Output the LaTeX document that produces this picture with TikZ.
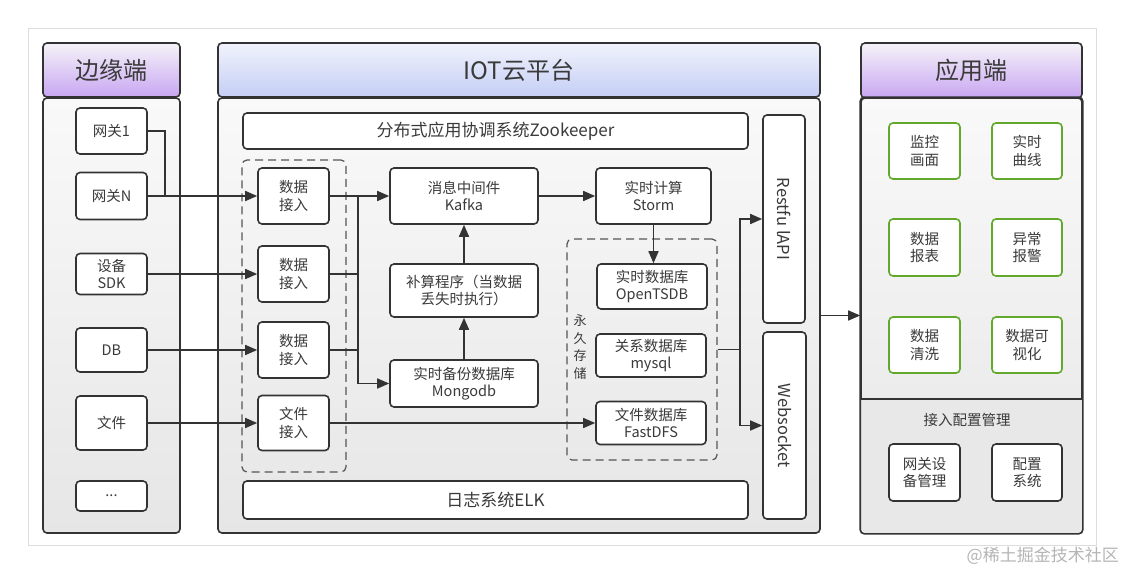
\documentclass[tikz,border=0pt]{standalone}
\usepackage{fontspec}
\setmainfont{Noto Sans CJK SC}
\usetikzlibrary{arrows.meta}
\definecolor{linec}{HTML}{333333}
\definecolor{textc}{HTML}{3A3A3A}
\definecolor{greenc}{HTML}{62A82C}
\definecolor{dashc}{HTML}{555555}
\definecolor{frame}{HTML}{DDDDDD}
\definecolor{bodytop}{HTML}{F9F9F9}
\definecolor{bodybot}{HTML}{E6E6E6}
\definecolor{lowc}{HTML}{E8E8E8}
\definecolor{purtop}{HTML}{F5F3F8}
\definecolor{purbot}{HTML}{C8A6F2}
\definecolor{blutop}{HTML}{F1F3FB}
\definecolor{blubot}{HTML}{C4CEF6}
\definecolor{wmc}{HTML}{B5B5B5}
\begin{document}
\begin{tikzpicture}[x=1pt,y=-1pt,
  box/.style={draw=linec, line width=1.6pt, rounded corners=4pt, fill=white, text=textc,
    font=\fontsize{14.5}{17.5}\selectfont, align=center, inner sep=0pt},
  gbox/.style={box, draw=greenc},
  bigbox/.style={box, font=\fontsize{17}{19}\selectfont},
  panel/.style={draw=linec, line width=1.6pt, rounded corners=4pt, top color=bodytop, bottom color=bodybot, inner sep=0pt},
  phead/.style={draw=linec, line width=1.6pt, rounded corners=4pt, top color=purtop, bottom color=purbot,
    text=textc, font=\fontsize{24}{26}\selectfont, inner sep=0pt},
  mhead/.style={phead, top color=blutop, bottom color=blubot},
  grp/.style={draw=dashc, line width=1.2pt, dash pattern=on 8pt off 5pt, rounded corners=5pt, inner sep=0pt},
  conn/.style={draw=linec, line width=1.6pt},
  arr/.style={conn, -{Triangle[length=12pt,width=10pt]}},
  rottext/.style={rotate=-90, text=textc, font=\fontsize{16.5}{18}\selectfont}
]
\useasboundingbox (0,0) rectangle (1125,573);
\fill[white] (0,0) rectangle (1125,573);
\draw[frame, line width=0.8pt] (28,28) rectangle (1096,545);

% ---------- left column ----------
\node[phead, minimum width=137pt, minimum height=54pt] (lhead) at (111.5,70) {边缘端};
\node[panel, minimum width=137pt, minimum height=435pt] (lbody) at (111.5,315.5) {};
\node[box, minimum width=71pt, minimum height=46pt] (g1) at (111.5,131) {网关1};
\node[box, minimum width=71pt, minimum height=47pt] (gN) at (111.5,196) {网关N};
\node[box, minimum width=71pt, minimum height=41pt] (sdk) at (111.5,274) {设备\\SDK};
\node[box, minimum width=71pt, minimum height=44pt] (db) at (111.5,350) {DB};
\node[box, minimum width=71pt, minimum height=54pt] (file) at (111.5,423) {文件};
\node[box, minimum width=71pt, minimum height=30pt] (dots) at (111.5,496) {...};

% ---------- middle column ----------
\node[mhead, minimum width=602pt, minimum height=54pt] (mhd) at (519,70) {IOT云平台};
\node[panel, minimum width=602pt, minimum height=435pt] (mbody) at (519,315.5) {};
\node[bigbox, minimum width=505pt, minimum height=36pt] (zk) at (495.5,131) {分布式应用协调系统Zookeeper};
\node[bigbox, minimum width=505pt, minimum height=38pt] (elk) at (495.5,500) {日志系统ELK};

\node[grp, minimum width=104pt, minimum height=312pt] (ing) at (294,316) {};
\node[box, minimum width=71pt, minimum height=56pt] (in1) at (293.5,196) {数据\\接入};
\node[box, minimum width=71pt, minimum height=56pt] (in2) at (293.5,274) {数据\\接入};
\node[box, minimum width=71pt, minimum height=56pt] (in3) at (293.5,350) {数据\\接入};
\node[box, minimum width=71pt, minimum height=55pt] (in4) at (293.5,423) {文件\\接入};

\node[box, minimum width=148pt, minimum height=56pt] (kafka) at (464,196) {消息中间件\\Kafka};
\node[box, minimum width=148pt, minimum height=53pt] (calc) at (464,290.5) {补算程序（当数据\\丢失时执行）};
\node[box, minimum width=148pt, minimum height=47pt] (mongo) at (464,383.5) {实时备份数据库\\Mongodb};
\node[box, minimum width=115pt, minimum height=56pt] (storm) at (653.5,196) {实时计算\\Storm};

\node[grp, minimum width=150pt, minimum height=221pt] (pg) at (642,349.5) {};
\node[text=textc, font=\fontsize{13}{17.5}\selectfont, align=center, inner sep=0pt] (pglab) at (580,347) {永\\久\\存\\储};
\node[box, minimum width=110pt, minimum height=45pt] (tsdb) at (652,286.5) {实时数据库\\OpenTSDB};
\node[box, minimum width=110pt, minimum height=43pt] (mysql) at (651,355.5) {关系数据库\\mysql};
\node[box, minimum width=110pt, minimum height=43pt] (fdfs) at (651,423) {文件数据库\\FastDFS};

\node[box, minimum width=42pt, minimum height=208pt] (rest) at (784,219) {};
\node[rottext] (restt) at (rest) {Restfu lAPI};
\node[box, minimum width=43pt, minimum height=187pt] (ws) at (784.5,425.5) {};
\node[rottext] (wst) at (ws) {Websocket};

% ---------- right column ----------
\node[phead, minimum width=221pt, minimum height=55pt] (rhead) at (971.5,70.5) {应用端};
\node[panel, minimum width=221pt, minimum height=435pt] (rbody) at (971.5,315.5) {};
\begin{scope}
  \clip[rounded corners=4pt] (rbody.south west) rectangle (rbody.north east);
  \fill[lowc] (rbody.south west) rectangle (rbody.east |- 0,399);
\end{scope}
\draw[linec, line width=1.6pt, rounded corners=4pt] (rbody.south west) rectangle (rbody.north east);
\draw[linec, line width=1.6pt] (rbody.west |- 0,399) -- (rbody.east |- 0,399);

\node[gbox, minimum width=71pt, minimum height=56pt] (m1) at (924.5,151) {监控\\画面};
\node[gbox, minimum width=70pt, minimum height=56pt] (m2) at (1027,151) {实时\\曲线};
\node[gbox, minimum width=71pt, minimum height=57pt] (m3) at (924.5,247.5) {数据\\报表};
\node[gbox, minimum width=70pt, minimum height=57pt] (m4) at (1027,247.5) {异常\\报警};
\node[gbox, minimum width=71pt, minimum height=56pt] (m5) at (924.5,345) {数据\\清洗};
\node[gbox, minimum width=70pt, minimum height=56pt] (m6) at (1027,345) {数据可\\视化};
\node[text=textc, font=\fontsize{14.5}{17.5}\selectfont, inner sep=0pt] (cfglab) at (967,420) {接入配置管理};
\node[box, minimum width=71pt, minimum height=57pt] (c1) at (924.5,472.5) {网关设\\备管理};
\node[box, minimum width=70pt, minimum height=57pt] (c2) at (1027,472.5) {配置\\系统};

% ---------- connectors ----------
\coordinate (j) at (165,196);
\draw[conn] (g1.east) -| (j);
\draw[arr] (gN.east) -- (in1.west);
\draw[arr] (sdk.east) -- (in2.west);
\draw[arr] (db.east) -- (in3.west);
\draw[arr] (file.east) -- (in4.west);

\coordinate (b1) at (358,196);
\coordinate (b4) at (358,383.5);
\draw[arr] (in1.east) -- (kafka.west);
\draw[arr] (b1) -- (b4) -- (mongo.west);
\draw[conn] (in2.east) -- (in2.east -| b1);
\draw[conn] (in3.east) -- (in3.east -| b1);
\draw[arr] (mongo.north) -- (calc.south);
\draw[arr] (calc.north) -- (kafka.south);
\draw[arr] (in4.east) -- (fdfs.west);
\draw[arr] (kafka.east) -- (storm.west);
\draw[arr] (storm.south) -- (storm.south |- tsdb.north);

\coordinate (s1) at (740,349.5);
\draw[conn] (pg.east) -- (s1);
\draw[arr] (s1) |- (rest.west);
\draw[arr] (s1) |- (ws.west);
\draw[arr] (mbody.east) -- (mbody.east -| rbody.west);

\node[anchor=east, text=wmc, font=\fontsize{17}{17}\selectfont, inner sep=0pt] (wm) at (1119,556) {@稀土掘金技术社区};
\end{tikzpicture}
\end{document}
